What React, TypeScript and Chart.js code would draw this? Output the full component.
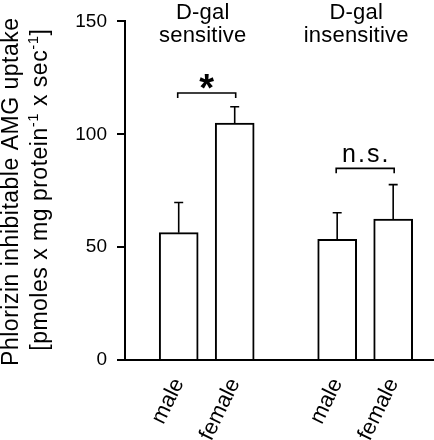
import React, { useEffect, useRef } from 'react';
import { Chart, registerables } from 'chart.js';

Chart.register(...registerables);

// ---- data ----
const categories = ['male', 'female', 'male', 'female'];
const xPositions = [1, 2, 3.83, 4.83];
const means = [56.4, 105, 53.5, 62.4];
const upperErrors = [13.4, 7.2, 11.7, 15.3];
const groupTitles = [['D-gal', 'sensitive'], ['D-gal', 'insensitive']];
const groupMembers = [[0, 1], [2, 3]];
const yTickValues = [0, 50, 100, 150];
const yTitleLine1 = 'Phlorizin inhibitable AMG uptake';
const yTitleLine2 = [
  { t: '[pmoles x mg protein', sup: false },
  { t: '-1', sup: true },
  { t: ' x sec', sup: false },
  { t: '-1', sup: true },
  { t: ']', sup: false },
];
const sigPairs = [[0, 1], [2, 3]];
const sigLabels = ['*', 'n.s.'];
const sigLevels = [118.3, 84.9];

const FONT = '"Liberation Sans", Arial, Helvetica, sans-serif';

function setSpacing(ctx: any, v: string) {
  try {
    ctx.letterSpacing = v;
  } catch (e) {
    /* ignore */
  }
}

const annotationsPlugin = {
  id: 'annotations',
  afterDatasetsDraw(chart: any) {
    const ctx = chart.ctx as CanvasRenderingContext2D;
    const xs = chart.scales.x;
    const ys = chart.scales.y;
    ctx.save();
    ctx.strokeStyle = '#000';
    ctx.fillStyle = '#000';
    ctx.lineWidth = 1.6;
    // error bars (upper only)
    means.forEach((m, i) => {
      const x = xs.getPixelForValue(xPositions[i]);
      const y0 = ys.getPixelForValue(m);
      const y1 = ys.getPixelForValue(m + upperErrors[i]);
      ctx.beginPath();
      ctx.moveTo(x, y0);
      ctx.lineTo(x, y1);
      ctx.moveTo(x - 4.5, y1);
      ctx.lineTo(x + 4.5, y1);
      ctx.stroke();
    });
    // significance brackets
    sigPairs.forEach((pair, k) => {
      const xa = xs.getPixelForValue(xPositions[pair[0]]) - 1;
      const xb = xs.getPixelForValue(xPositions[pair[1]]) + 1;
      const y = ys.getPixelForValue(sigLevels[k]);
      ctx.beginPath();
      ctx.moveTo(xa, y + 5);
      ctx.lineTo(xa, y);
      ctx.lineTo(xb, y);
      ctx.lineTo(xb, y + 5);
      ctx.stroke();
      const cx = (xa + xb) / 2;
      const label = sigLabels[k];
      ctx.textAlign = 'center';
      ctx.textBaseline = 'alphabetic';
      if (label === '*') {
        setSpacing(ctx, '0px');
        ctx.font = `bold 38px ${FONT}`;
        const m = ctx.measureText(label);
        const asc = m.actualBoundingBoxAscent;
        const desc = m.actualBoundingBoxDescent;
        const targetCenter = y - 11;
        ctx.fillText(label, cx, targetCenter + (asc - desc) / 2);
      } else {
        setSpacing(ctx, '2px');
        ctx.font = `25px ${FONT}`;
        ctx.fillText(label, cx + 1, y - 6);
      }
    });
    // group titles
    setSpacing(ctx, '0.2px');
    ctx.font = `22px ${FONT}`;
    ctx.textAlign = 'center';
    ctx.textBaseline = 'alphabetic';
    groupTitles.forEach((lines, g) => {
      const mem = groupMembers[g];
      const cx =
        (xs.getPixelForValue(xPositions[mem[0]]) + xs.getPixelForValue(xPositions[mem[mem.length - 1]])) / 2 -
        (g === 0 ? 4 : 9);
      lines.forEach((ln, j) => {
        ctx.fillText(ln, cx, 19 + j * 22.5);
      });
    });
    // y axis title
    const midY = (chart.chartArea.top + chart.chartArea.bottom) / 2;
    setSpacing(ctx, '0.5px');
    ctx.save();
    ctx.translate(18, midY + 1);
    ctx.rotate(-Math.PI / 2);
    ctx.font = `23px ${FONT}`;
    ctx.textAlign = 'center';
    ctx.fillText(yTitleLine1, 0, 0);
    ctx.restore();

    ctx.save();
    ctx.translate(47, midY - 1);
    ctx.rotate(-Math.PI / 2);
    ctx.textAlign = 'left';
    const normalFont = `23px ${FONT}`;
    const supFont = `15px ${FONT}`;
    let total = 0;
    yTitleLine2.forEach((s) => {
      ctx.font = s.sup ? supFont : normalFont;
      total += ctx.measureText(s.t).width;
    });
    let cur = -total / 2;
    yTitleLine2.forEach((s) => {
      ctx.font = s.sup ? supFont : normalFont;
      ctx.fillText(s.t, cur, s.sup ? -9 : 0);
      cur += ctx.measureText(s.t).width;
    });
    ctx.restore();
    setSpacing(ctx, '0px');
    ctx.restore();
  },
};

export default function App() {
  const ref = useRef<HTMLCanvasElement>(null);
  useEffect(() => {
    document.body.style.margin = '0';
    const chart = new Chart(ref.current!, {
      type: 'bar',
      data: {
        datasets: [
          {
            data: means.map((m, i) => ({ x: xPositions[i], y: m })),
            backgroundColor: '#ffffff',
            borderColor: '#000000',
            borderWidth: 2,
            borderSkipped: 'start',
            barThickness: 39,
          },
        ],
      },
      options: {
        responsive: false,
        animation: false,
        events: [],
        layout: { padding: { top: 12, left: 0, right: 0, bottom: 0 } },
        plugins: {
          legend: { display: false },
          tooltip: { enabled: false },
          title: { display: false },
        },
        scales: {
          x: {
            type: 'linear',
            offset: false,
            min: 0.041,
            max: 5.559,
            grid: { display: false },
            border: { display: true, color: '#000', width: 2 },
            afterBuildTicks: (scale: any) => {
              scale.ticks = xPositions.map((v) => ({ value: v }));
            },
            afterFit: (scale: any) => {
              scale.height = 80;
              scale.paddingLeft = 0;
              scale.paddingRight = 0;
            },
            ticks: {
              autoSkip: false,
              minRotation: 64,
              maxRotation: 64,
              padding: 6,
              color: '#000',
              font: { size: 22, family: FONT },
              callback: (v: any) => {
                const idx = xPositions.indexOf(Number(v));
                return idx >= 0 ? categories[idx] : '';
              },
            },
          },
          y: {
            type: 'linear',
            min: 0,
            max: 150,
            grid: {
              drawOnChartArea: false,
              drawTicks: true,
              tickLength: 8,
              color: '#000',
              lineWidth: 2,
            },
            border: { display: true, color: '#000', width: 2 },
            afterBuildTicks: (scale: any) => {
              scale.ticks = yTickValues.map((v) => ({ value: v }));
            },
            afterFit: (scale: any) => {
              scale.width = 125;
            },
            ticks: {
              padding: 10,
              color: '#000',
              font: { size: 19, family: FONT },
            },
          },
        },
      },
      plugins: [annotationsPlugin],
    });
    return () => chart.destroy();
  }, []);
  return (
    <div style={{ position: 'absolute', left: 0, top: 0, width: 434, height: 440, background: '#fff' }}>
      <canvas ref={ref} width={434} height={440} />
    </div>
  );
}
